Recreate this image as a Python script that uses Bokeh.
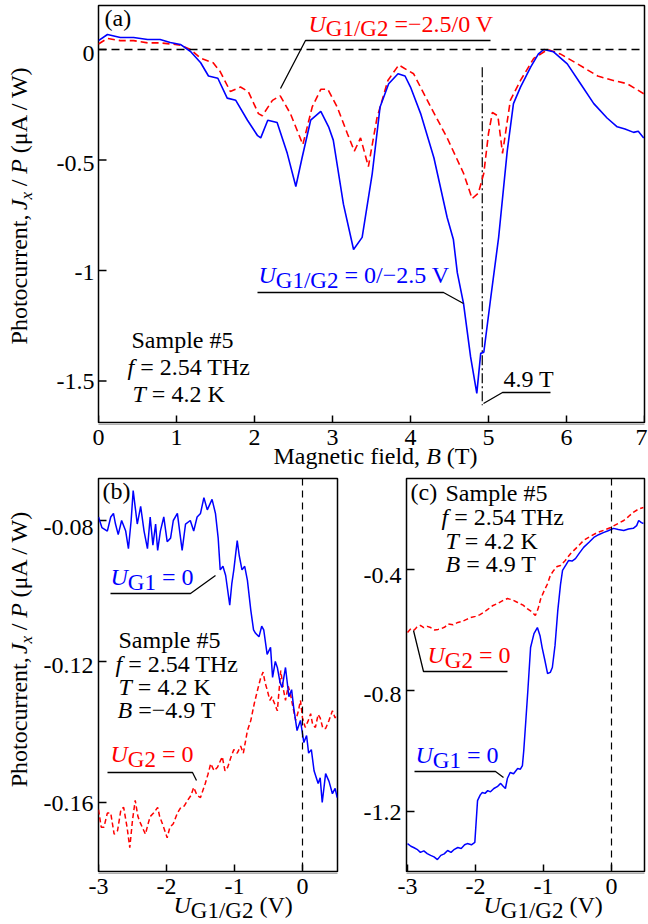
import math
from bokeh.plotting import figure
from bokeh.models import Span, Range1d
from bokeh.layouts import column, row
from bokeh.embed import file_html
from bokeh.resources import INLINE
from bokeh.core.properties import value

FONT = "Liberation Serif"
BLUE = "#0000ff"
RED = "#ff0000"

# ---------------- Panel (a): photocurrent vs magnetic field ----------------
a_B_blue = [0.0, 0.115, 0.28, 0.45, 0.63, 0.79, 0.92, 1.05, 1.18, 1.31, 1.41, 1.53, 1.65, 1.76,
            1.91, 2.04, 2.08, 2.17, 2.29, 2.42, 2.53, 2.61, 2.72, 2.85, 2.95, 3.01, 3.14, 3.27,
            3.38, 3.51, 3.61, 3.72, 3.84, 3.93, 4.0, 4.13, 4.3, 4.47, 4.55, 4.6, 4.68, 4.77,
            4.85, 4.90, 4.94, 5.03, 5.13, 5.24, 5.32, 5.41, 5.54, 5.64, 5.71, 5.83, 6.01, 6.18,
            6.35, 6.52, 6.65, 6.75, 6.86, 6.92, 6.99]
a_J_blue = [0.04, 0.068, 0.054, 0.054, 0.045, 0.045, 0.032, 0.023, -0.009, -0.06, -0.12, -0.13,
            -0.22, -0.23, -0.32, -0.39, -0.40, -0.32, -0.33, -0.47, -0.62, -0.49, -0.32, -0.28,
            -0.35, -0.41, -0.70, -0.905, -0.85, -0.56, -0.26, -0.155, -0.11, -0.12, -0.17, -0.29,
            -0.49, -0.76, -0.86, -1.01, -1.15, -1.39, -1.556, -1.375, -1.37, -1.12, -0.85, -0.46,
            -0.245, -0.17, -0.08, -0.02, 0.0, -0.01, -0.065, -0.155, -0.245, -0.31, -0.35, -0.36,
            -0.375, -0.37, -0.40]
a_B_red = [0.0, 0.115, 0.28, 0.45, 0.63, 0.79, 0.92, 1.05, 1.18, 1.31, 1.47, 1.56, 1.69, 1.82,
           1.92, 2.05, 2.1, 2.23, 2.33, 2.46, 2.62, 2.74, 2.85, 2.94, 3.06, 3.19, 3.28, 3.36,
           3.46, 3.57, 3.71, 3.85, 4.04, 4.26, 4.47, 4.68, 4.79, 4.87, 4.94, 5.0, 5.05, 5.12,
           5.18, 5.28, 5.41, 5.58, 5.76, 5.92, 6.14, 6.40, 6.60, 6.78, 6.99]
a_J_red = [0.025, 0.05, 0.04, 0.04, 0.03, 0.03, 0.025, 0.02, 0.0, -0.04, -0.06, -0.10, -0.19,
           -0.17, -0.19, -0.29, -0.30, -0.23, -0.21, -0.29, -0.43, -0.26, -0.18, -0.18, -0.26,
           -0.38, -0.46, -0.40, -0.53, -0.31, -0.14, -0.07, -0.11, -0.26, -0.40, -0.56, -0.675,
           -0.65, -0.56, -0.38, -0.285, -0.30, -0.47, -0.23, -0.14, -0.04, 0.0, -0.02, -0.065,
           -0.12, -0.14, -0.155, -0.20]
a_field_mark = 4.92
a_xticks = [0, 1, 2, 3, 4, 5, 6, 7]
a_xtick_labels = ["0", "1", "2", "3", "4", "5", "6", "7"]
a_yticks = [-1.5, -1.0, -0.5, 0.0]
a_ytick_labels = ["-1.5", "-1", "-0.5", "0"]

# ---------------- Panel (b): B = -4.9 T ----------------
b_U_blue = [-3.0, -2.95, -2.87, -2.82, -2.78, -2.75, -2.71, -2.66, -2.6, -2.56, -2.52, -2.49, -2.43,
            -2.38, -2.33, -2.28, -2.24, -2.2, -2.16, -2.13, -2.09, -2.04, -1.99, -1.94, -1.9,
            -1.84, -1.8, -1.77, -1.72, -1.65, -1.6, -1.55, -1.5, -1.45, -1.40, -1.33, -1.28,
            -1.24, -1.21, -1.17, -1.13, -1.07, -1.04, -1.01, -0.96, -0.93, -0.89, -0.85, -0.81,
            -0.76, -0.72, -0.69, -0.64, -0.6, -0.57, -0.52, -0.47, -0.44, -0.4, -0.37, -0.33,
            -0.3, -0.25, -0.2, -0.16, -0.13, -0.08, -0.03, 0.02, 0.06, 0.09, 0.13, 0.17, 0.23,
            0.26, 0.29, 0.34, 0.39, 0.44, 0.48, 0.51]
b_J_blue = [-0.079, -0.082, -0.083, -0.079, -0.078, -0.081, -0.084, -0.080, -0.083, -0.088, -0.080,
            -0.0715, -0.081, -0.076, -0.083, -0.088, -0.079, -0.087, -0.081, -0.0885, -0.083,
            -0.079, -0.086, -0.085, -0.080, -0.078, -0.084, -0.0885, -0.081, -0.080, -0.083,
            -0.079, -0.078, -0.0735, -0.077, -0.074, -0.078, -0.085, -0.094, -0.093, -0.0956,
            -0.104, -0.098, -0.094, -0.0857, -0.090, -0.094, -0.093, -0.097, -0.1055, -0.111,
            -0.112, -0.113, -0.110, -0.111, -0.118, -0.116, -0.1245, -0.120, -0.1217, -0.126,
            -0.1274, -0.1217, -0.130, -0.128, -0.133, -0.1396, -0.1367, -0.143, -0.141, -0.146,
            -0.145, -0.151, -0.1546, -0.153, -0.160, -0.1518, -0.154, -0.1575, -0.156, -0.1586]
b_U_red = [-3.0, -2.96, -2.92, -2.87, -2.82, -2.77, -2.72, -2.67, -2.63, -2.58, -2.54, -2.5, -2.46,
           -2.42, -2.38, -2.31, -2.27, -2.24, -2.19, -2.13, -2.1, -2.06, -1.99, -1.95, -1.9,
           -1.84, -1.79, -1.74, -1.69, -1.64, -1.6, -1.55, -1.5, -1.43, -1.39, -1.35, -1.3,
           -1.25, -1.18, -1.14, -1.1, -1.05, -1.01, -0.96, -0.91, -0.87, -0.81, -0.76, -0.71,
           -0.66, -0.62, -0.58, -0.55, -0.52, -0.48, -0.45, -0.41, -0.37, -0.32, -0.28, -0.25,
           -0.21, -0.18, -0.14, -0.1, -0.06, -0.03, 0.0, 0.04, 0.08, 0.12, 0.15, 0.19, 0.23,
           0.26, 0.3, 0.34, 0.39, 0.44, 0.48, 0.51]
b_J_red = [-0.162, -0.167, -0.167, -0.163, -0.163, -0.169, -0.168, -0.162, -0.1614, -0.167, -0.1728,
           -0.165, -0.1594, -0.164, -0.166, -0.169, -0.166, -0.164, -0.163, -0.1614, -0.164,
           -0.166, -0.170, -0.167, -0.166, -0.163, -0.1614, -0.161, -0.1594, -0.158, -0.1557,
           -0.158, -0.1586, -0.1546, -0.152, -0.149, -0.151, -0.150, -0.147, -0.151, -0.150,
           -0.147, -0.145, -0.146, -0.144, -0.146, -0.1396, -0.1367, -0.132, -0.128, -0.125,
           -0.123, -0.126, -0.128, -0.131, -0.130, -0.132, -0.134, -0.1226, -0.128, -0.131,
           -0.127, -0.129, -0.133, -0.1367, -0.134, -0.131, -0.136, -0.1387, -0.137, -0.1348,
           -0.138, -0.1387, -0.135, -0.136, -0.139, -0.139, -0.1367, -0.134, -0.136, -0.1348]
b_xticks = [-3, -2, -1, 0]
b_xtick_labels = ["-3", "-2", "-1", "0"]
b_yticks = [-0.16, -0.12, -0.08]
b_ytick_labels = ["-0.16", "-0.12", "-0.08"]

# ---------------- Panel (c): B = 4.9 T ----------------
c_U_blue = [-3.0, -2.95, -2.91, -2.86, -2.81, -2.76, -2.71, -2.66, -2.61, -2.56, -2.51, -2.46, -2.41,
            -2.36, -2.31, -2.26, -2.21, -2.16, -2.12, -2.06, -2.01, -1.97, -1.93, -1.9, -1.86,
            -1.82, -1.78, -1.73, -1.68, -1.63, -1.6, -1.56, -1.53, -1.49, -1.44, -1.38, -1.34,
            -1.31, -1.29, -1.26, -1.23, -1.19, -1.14, -1.09, -1.05, -1.02, -0.98, -0.94, -0.9,
            -0.87, -0.83, -0.79, -0.75, -0.72, -0.67, -0.63, -0.58, -0.53, -0.47, -0.41, -0.33,
            -0.26, -0.19, -0.12, -0.05, 0.03, 0.1, 0.18, 0.25, 0.32, 0.37, 0.40, 0.44, 0.47]
c_J_blue = [-1.306, -1.315, -1.319, -1.325, -1.335, -1.330, -1.339, -1.345, -1.35, -1.359, -1.345,
            -1.34, -1.329, -1.335, -1.325, -1.319, -1.322, -1.31, -1.306, -1.31, -1.302, -1.164,
            -1.145, -1.137, -1.14, -1.131, -1.135, -1.124, -1.118, -1.107, -1.115, -1.124, -1.09,
            -1.071, -1.075, -1.058, -1.06, -1.048, -0.998, -0.90, -0.80, -0.658, -0.612, -0.592,
            -0.62, -0.658, -0.70, -0.744, -0.74, -0.724, -0.65, -0.536, -0.45, -0.403, -0.385,
            -0.37, -0.372, -0.364, -0.345, -0.327, -0.31, -0.294, -0.285, -0.278, -0.272, -0.264,
            -0.268, -0.271, -0.266, -0.264, -0.255, -0.238, -0.245, -0.248]
c_U_red = [-3.0, -2.95, -2.9, -2.86, -2.81, -2.76, -2.71, -2.66, -2.6, -2.55, -2.5, -2.45, -2.4,
           -2.33, -2.26, -2.2, -2.13, -2.07, -2.0, -1.94, -1.88, -1.82, -1.75, -1.68, -1.6,
           -1.53, -1.46, -1.38, -1.3, -1.24, -1.17, -1.12, -1.08, -1.04, -0.99, -0.94, -0.9,
           -0.85, -0.8, -0.75, -0.68, -0.6, -0.5, -0.41, -0.31, -0.21, -0.11, -0.01, 0.08, 0.18,
           0.25, 0.32, 0.40, 0.47]
c_J_red = [-0.608, -0.595, -0.60, -0.59, -0.585, -0.592, -0.588, -0.592, -0.60, -0.598, -0.595,
           -0.59, -0.58, -0.583, -0.575, -0.572, -0.565, -0.559, -0.555, -0.55, -0.542, -0.532,
           -0.52, -0.513, -0.503, -0.496, -0.50, -0.509, -0.518, -0.529, -0.54, -0.552, -0.53,
           -0.496, -0.47, -0.447, -0.42, -0.403, -0.39, -0.387, -0.37, -0.347, -0.325, -0.304,
           -0.29, -0.278, -0.27, -0.261, -0.25, -0.238, -0.225, -0.211, -0.20, -0.195]
c_xticks = [-3, -2, -1, 0]
c_xtick_labels = ["-3", "-2", "-1", "0"]
c_yticks = [-1.2, -0.8, -0.4]
c_ytick_labels = ["-1.2", "-0.8", "-0.4"]

# ---------------- text helpers (Times-compatible advance widths) ----------------
W_R = {' ': 250, '!': 333, '#': 500, '(': 333, ')': 333, ',': 250, '-': 333, '.': 250, '/': 278,
       '=': 564, 'A': 722, 'B': 667, 'G': 722, 'H': 722, 'K': 722, 'P': 556, 'S': 556, 'T': 611,
       'U': 722, 'V': 722, 'W': 944, 'M': 889, 'a': 444, 'c': 444, 'd': 500, 'e': 444, 'f': 333,
       'g': 500, 'h': 500, 'i': 278, 'l': 278, 'm': 778, 'n': 500, 'o': 500, 'p': 500, 'r': 333,
       's': 389, 't': 278, 'u': 500, 'x': 500, 'z': 444, '\u03bc': 500, '\u2212': 564}
for d in "0123456789":
    W_R[d] = 500
W_I = {'U': 722, 'B': 611, 'J': 444, 'P': 611, 'T': 556, 'f': 278, 'x': 444}
MID = 0.3375  # height of the font-box middle above the baseline, in em


def tw(s, italic, size):
    tab = W_I if italic else W_R
    return sum(tab.get(ch, W_R.get(ch, 500)) for ch in s) * size / 1000.0


def rich(p, conv, X, Y, pieces, color="black", vertical=False):
    """Place a run of differently styled text pieces; (X, Y) is the baseline start in page px."""
    for text, italic, size, dy in pieces:
        lead = len(text) - len(text.lstrip(" "))
        core = text.strip(" ")
        adv = tw(" " * lead, False, size)
        if vertical:
            Y -= adv
            px, py = X + dy - MID * size, Y
        else:
            X += adv
            px, py = X, Y + dy - MID * size
        if core:
            x, y = conv(px, py)
            p.text(x=[x], y=[y], text=[core], text_font=value(FONT),
                   text_font_style="italic" if italic else "normal",
                   text_font_size=f"{size}px", text_color=color,
                   text_align="left", text_baseline="middle",
                   angle=math.pi / 2 if vertical else 0.0)
        w = tw(text.lstrip(" "), italic, size)
        if vertical:
            Y -= w
        else:
            X += w


def poly(p, conv, pts, color="black"):
    xs, ys = zip(*[conv(X, Y) for X, Y in pts])
    p.line(list(xs), list(ys), line_color=color, line_width=1.3)


# reference calibration: page pixel -> data value for each panel
def Ba(X): return (X - 98) / 78.0
def Ja(Y): return (49 - Y) / 221.0
def Ub(X): return -3 + (X - 98) / 68.0
def Jb(Y): return -0.08 - (Y - 520) / 3525.0
def Uc(X): return -3 + (X - 407) / 68.0
def Jc(Y): return -0.4 - (Y - 569) / 302.5


TICK = 8  # inward tick length, px


def main_fig(w, h, xr, yr, borders, xt, yt, fw, fh):
    left, right, top, bottom = borders
    p = figure(width=w, height=h, x_range=Range1d(*xr), y_range=Range1d(*yr),
               min_border_left=left, min_border_right=right, min_border_top=top,
               min_border_bottom=bottom, x_axis_location=None, y_axis_location=None,
               output_backend="svg", toolbar_location=None)
    p.xgrid.visible = False
    p.ygrid.visible = False
    p.outline_line_color = "black"
    p.outline_line_width = 1.5
    p.outline_line_alpha = 1.0
    p.background_fill_color = "white"
    p.border_fill_color = "white"
    dy = (yr[1] - yr[0]) * TICK / fh
    dx = (xr[1] - xr[0]) * TICK / fw
    p.segment(x0=xt, y0=[yr[0]] * len(xt), x1=xt, y1=[yr[0] + dy] * len(xt),
              line_color="black", line_width=1.5)
    p.segment(x0=[xr[0]] * len(yt), y0=yt, x1=[xr[0] + dx] * len(yt), y1=yt,
              line_color="black", line_width=1.5)
    return p


def strip(w, h, xr, yr):
    p = figure(width=w, height=h, x_range=Range1d(*xr), y_range=Range1d(*yr),
               min_border_left=0, min_border_right=0, min_border_top=0, min_border_bottom=0,
               x_axis_location=None, y_axis_location=None, output_backend="svg",
               toolbar_location=None)
    p.xgrid.visible = False
    p.ygrid.visible = False
    p.outline_line_color = None
    p.background_fill_color = "white"
    p.border_fill_color = "white"
    return p


def tick_text(p, xs, ys, labels, align, xoff=None):
    p.text(x=xs, y=ys, text=labels, text_font=value(FONT), text_font_size="24px",
           text_color="black", text_align=align, text_baseline="middle",
           x_offset=xoff if xoff is not None else 0)


def ylabel(p, conv, X, Y):
    rich(p, conv, X, Y, [("Photocurrent, ", False, 24, 0), ("J", True, 24, 0), ("x", True, 17, 5),
                         (" / ", False, 24, 0), ("P", True, 24, 0), (" (\u03bcA / W)", False, 24, 0)],
         vertical=True)


XMID = MID * 24  # baseline-to-middle offset of 24 px tick labels

# ---------------- panel (a) ----------------
fa = main_fig(553, 423, (0, 7), (Ja(423), Ja(5)), (3, 4, 5, 0), a_xticks, a_yticks, 546, 418)
ca = lambda X, Y: (Ba(X), Ja(Y))
fa.add_layout(Span(location=0, dimension="width", line_color="black", line_dash="8 5", line_width=1.3))
fa.line([a_field_mark, a_field_mark], [-0.08, -1.61], line_color="black", line_dash="10 3 2 3", line_width=1.2)
fa.line(a_B_red, a_J_red, line_color=RED, line_width=1.6, line_dash="7 4")
fa.line(a_B_blue, a_J_blue, line_color=BLUE, line_width=1.6)
rich(fa, ca, 104, 26, [("(a)", False, 24, 0)])
rich(fa, ca, 131, 348, [("Sample #5", False, 24, 0)])
rich(fa, ca, 127, 375, [("f", True, 24, 0), (" = 2.54 THz", False, 24, 0)])
rich(fa, ca, 132, 402, [("T", True, 24, 0), (" = 4.2 K", False, 24, 0)])
rich(fa, ca, 308, 32, [("U", True, 24, 0), ("G1/G2", False, 23, 4), (" =\u22122.5/0 V", False, 24, 0)], color=RED)
poly(fa, ca, [(280, 88), (305, 40), (490, 40)])
rich(fa, ca, 258, 283, [("U", True, 24, 0), ("G1/G2", False, 23, 5), (" = 0/\u22122.5 V", False, 24, 0)], color=BLUE)
poly(fa, ca, [(257, 292), (443, 292), (463, 303)])
rich(fa, ca, 503, 387, [("4.9 T", False, 24, 0)])
poly(fa, ca, [(483, 403), (502, 392), (550, 392)])

ya = strip(95, 423, (0, 95), (Ja(423), Ja(0)))
cya = lambda X, Y: (X, Ja(Y))
tick_text(ya, [94] * len(a_yticks), a_yticks, a_ytick_labels, "right")
ylabel(ya, cya, 27, 343)

xa = strip(648, 47, (Ba(0), Ba(648)), (-470, -423))
cxa = lambda X, Y: (Ba(X), -Y)
xa.line([0, 7], [-423.4, -423.4], line_color="black", line_width=0.8)  # rest of the frame's bottom edge
tick_text(xa, a_xticks, [-(445 - XMID)] * len(a_xticks), a_xtick_labels, "center",
          xoff=[0, 0, 0, 0, 0, 0, 0, -3])
rich(xa, cxa, 273, 464, [("Magnetic field, ", False, 24, 0), ("B", True, 24, 0), (" (T)", False, 24, 0)])

# ---------------- panel (b) ----------------
fb = main_fig(245, 402, (Ub(98), Ub(337)), (Jb(872), Jb(478)), (3, 3, 8, 0), b_xticks, b_yticks, 239, 394)
cb = lambda X, Y: (Ub(X), Jb(Y))
fb.add_layout(Span(location=0, dimension="height", line_color="black", line_dash="7 5", line_width=1.2))
fb.line(b_U_red, b_J_red, line_color=RED, line_width=1.5, line_dash="5 3")
fb.line(b_U_blue, b_J_blue, line_color=BLUE, line_width=1.5)
rich(fb, cb, 102, 499, [("(b)", False, 24, 0)])
rich(fb, cb, 110, 585, [("U", True, 24, 0), ("G1", False, 23, 5), (" = 0", False, 24, 0)], color=BLUE)
poly(fb, cb, [(110, 593), (190, 593), (215, 575)])
rich(fb, cb, 118, 648, [("Sample #5", False, 24, 0)])
rich(fb, cb, 115, 672, [("f", True, 24, 0), (" = 2.54 THz", False, 24, 0)])
rich(fb, cb, 118, 695, [("T", True, 24, 0), (" = 4.2 K", False, 24, 0)])
rich(fb, cb, 117, 718, [("B", True, 24, 0), (" =\u22124.9 T", False, 24, 0)])
rich(fb, cb, 110, 762, [("U", True, 24, 0), ("G2", False, 23, 5), (" = 0", False, 24, 0)], color=RED)
poly(fb, cb, [(107, 772), (192, 772), (196, 780)])

yb = strip(95, 402, (0, 95), (Jb(872), Jb(470)))
cyb = lambda X, Y: (X, Jb(Y))
tick_text(yb, [93] * len(b_yticks), b_yticks, b_ytick_labels, "right")
ylabel(yb, cyb, 27, 785)

xb = strip(340, 52, (Ub(0), Ub(340)), (-924, -872))
cxb = lambda X, Y: (Ub(X), -Y)
xb.line([Ub(98), Ub(337)], [-872.4, -872.4], line_color="black", line_width=0.8)
tick_text(xb, b_xticks, [-(894 - XMID)] * len(b_xticks), b_xtick_labels, "center")
rich(xb, cxb, 173, 913, [("U", True, 24, 0), ("G1/G2", False, 23, 5), (" (V)", False, 24, 0)])

# ---------------- panel (c) ----------------
fc = main_fig(245, 402, (Uc(406), Uc(644)), (Jc(872), Jc(478)), (3, 4, 8, 0), c_xticks, c_yticks, 238, 394)
cc = lambda X, Y: (Uc(X), Jc(Y))
fc.add_layout(Span(location=0, dimension="height", line_color="black", line_dash="7 5", line_width=1.2))
fc.line(c_U_red, c_J_red, line_color=RED, line_width=1.5, line_dash="5 3")
fc.line(c_U_blue, c_J_blue, line_color=BLUE, line_width=1.5)
rich(fc, cc, 410, 500, [("(c)", False, 24, 0)])
rich(fc, cc, 445, 501, [("Sample #5", False, 24, 0)])
rich(fc, cc, 441, 525, [("f", True, 24, 0), (" = 2.54 THz", False, 24, 0)])
rich(fc, cc, 445, 549, [("T", True, 24, 0), (" = 4.2 K", False, 24, 0)])
rich(fc, cc, 445, 572, [("B", True, 24, 0), (" = 4.9 T", False, 24, 0)])
rich(fc, cc, 427, 663, [("U", True, 24, 0), ("G2", False, 23, 5), (" = 0", False, 24, 0)], color=RED)
poly(fc, cc, [(413, 630), (423, 671), (507, 671)])
rich(fc, cc, 415, 763, [("U", True, 24, 0), ("G1", False, 23, 5), (" = 0", False, 24, 0)], color=BLUE)
poly(fc, cc, [(414, 771), (495, 771), (503, 777)])

yc = strip(63, 402, (340, 403), (Jc(872), Jc(470)))
cyc = lambda X, Y: (X, Jc(Y))
tick_text(yc, [401] * len(c_yticks), c_yticks, c_ytick_labels, "right")

xc = strip(308, 52, (Uc(340), Uc(648)), (-924, -872))
cxc = lambda X, Y: (Uc(X), -Y)
xc.line([Uc(406), Uc(644)], [-872.4, -872.4], line_color="black", line_width=0.8)
tick_text(xc, c_xticks, [-(894 - XMID)] * len(c_xticks), c_xtick_labels, "center")
rich(xc, cxc, 483, 913, [("U", True, 24, 0), ("G1/G2", False, 23, 5), (" (V)", False, 24, 0)])

layout = column(row(ya, fa), xa, row(yb, fb, yc, fc), row(xb, xc))
open("out.html", "w").write(file_html(layout, INLINE))
